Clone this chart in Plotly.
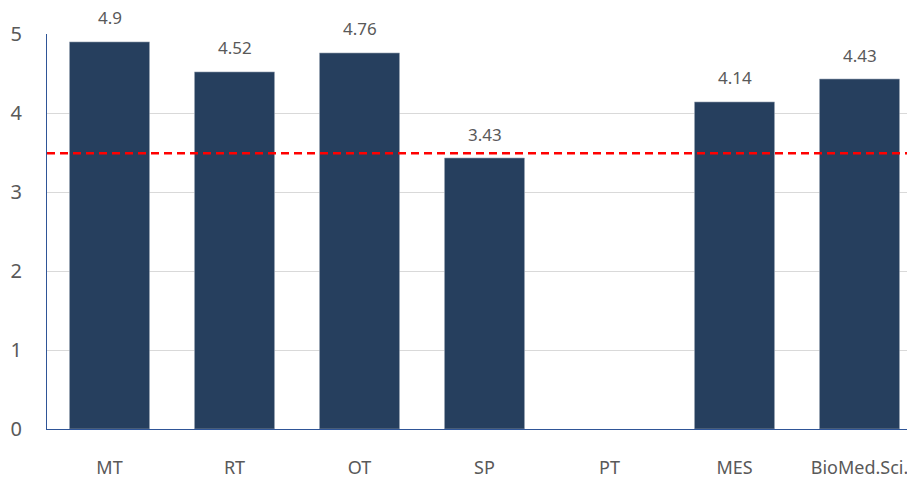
import plotly.graph_objects as go

categories = ["MT", "RT", "OT", "SP", "PT", "MES", "BioMed.Sci."]
values = [4.9, 4.52, 4.76, 3.43, None, 4.14, 4.43]
labels = ["4.9", "4.52", "4.76", "3.43", "", "4.14", "4.43"]
threshold = 3.49
y_ticks = [0, 1, 2, 3, 4, 5]

fig = go.Figure()
fig.add_trace(go.Bar(
    x=categories, y=values,
    marker=dict(color="#263F5E", line=dict(color="#9AA6B6", width=0.6)),
    width=0.64, hoverinfo="x+y",
))
for c, v, t in zip(categories, values, labels):
    if v is not None:
        fig.add_annotation(x=c, y=v, text=t, showarrow=False, yanchor="middle", yshift=24,
                           font=dict(size=17, color="#595959"))
fig.add_shape(type="line", xref="paper", x0=0, x1=1, yref="y", y0=threshold, y1=threshold,
              line=dict(color="#FF0000", width=2.4, dash="8px,5px"))

# body has an 8px default margin in the page; compensate
fig.update_layout(
    width=907, height=471,
    margin=dict(l=39, r=0, t=26, b=39),
    paper_bgcolor="white", plot_bgcolor="white",
    font=dict(family="Noto Sans, Open Sans, sans-serif", color="#595959"),
    showlegend=False,
    xaxis=dict(range=[-0.5, 6.444], showline=True, linecolor="#2F5597", linewidth=1.2,
               tickfont=dict(size=18, color="#595959"), ticks="", showgrid=False, ticklabelstandoff=22),
    yaxis=dict(range=[0, 5], tickvals=y_ticks, showline=True, linecolor="#2F5597", linewidth=1.2,
               gridcolor="#D9D9D9", gridwidth=1.2, tickfont=dict(size=20, color="#595959"),
               ticks="", zeroline=False, ticklabelstandoff=20),
)
fig.write_html("out.html")
